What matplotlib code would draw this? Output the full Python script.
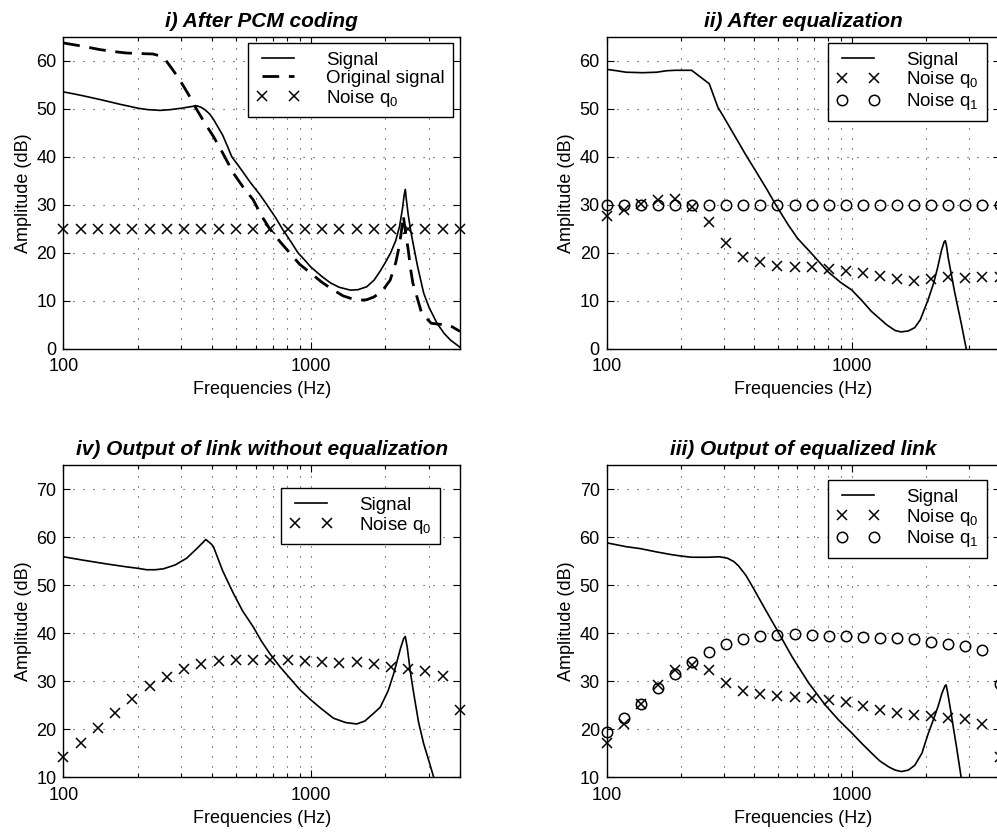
import numpy as np
import matplotlib
matplotlib.use("Agg")
import matplotlib.pyplot as plt
from matplotlib.ticker import FixedLocator, NullFormatter, FixedFormatter

plt.rcParams['font.family'] = ['Liberation Sans', 'DejaVu Sans']
plt.rcParams['mathtext.fontset'] = 'custom'
plt.rcParams['mathtext.rm'] = 'Liberation Sans'
plt.rcParams['mathtext.it'] = 'Liberation Sans:italic'

# ---------------- data ----------------
noise_freq = [100, 117.4, 137.8, 161.8, 189.9, 223.0, 261.8, 307.3, 360.8, 423.5,
              497.2, 583.7, 685.2, 804.4, 944.4, 1108.7, 1301.5, 1527.9, 1793.8,
              2105.8, 2472.1, 2902.2, 3407.1, 4000]

# i) After PCM coding
sig1_freq = [100, 110, 120, 130, 141, 155, 170, 185, 200, 220, 246, 270, 300, 325, 346,
             360, 373, 390, 404, 420, 440, 460, 479, 520, 570, 620, 664, 720, 770, 830,
             886, 950, 1000, 1110, 1200, 1300, 1445, 1550, 1680, 1800, 1906, 2000, 2100,
             2200, 2280, 2340, 2380, 2405, 2430, 2470, 2530, 2600, 2700, 2853, 3000,
             3230, 3450, 3660, 4000]
sig1_val = [53.5, 53.1, 52.7, 52.3, 51.9, 51.4, 50.9, 50.5, 50.1, 49.8, 49.65, 49.8,
            50.1, 50.4, 50.6, 50.3, 49.8, 48.9, 47.8, 46.3, 44.5, 42.2, 40.0, 37.5, 34.6,
            32.2, 30.0, 27.3, 24.8, 22.3, 20.0, 18.3, 17.0, 15.0, 13.7, 12.8, 12.2, 12.3,
            12.9, 14.3, 16.2, 18.0, 20.0, 22.5, 25.5, 29.0, 32.0, 33.2, 31.0, 28.0, 24.5,
            21.3, 17.0, 11.6, 8.6, 5.3, 3.2, 1.8, 0.3]
orig1_freq = [100, 120, 141, 160, 180, 200, 230, 246, 260, 275, 290, 300, 320, 346, 375,
              404, 440, 486, 530, 585, 630, 681, 750, 823, 900, 1000, 1110, 1233, 1350,
              1485, 1580, 1680, 1800, 1940, 2090, 2200, 2270, 2320, 2360, 2400, 2474,
              2530, 2580, 2680, 2800, 3060, 3300, 3600, 4000]
orig1_val = [63.7, 63.0, 62.3, 61.9, 61.6, 61.5, 61.4, 61.0, 60.0, 58.3, 56.6, 55.4,
             53.0, 49.8, 46.8, 44.2, 40.8, 36.6, 33.8, 31.0, 27.8, 25.0, 22.3, 19.9, 17.6,
             15.7, 13.8, 12.2, 11.0, 10.3, 10.1, 10.2, 10.8, 12.0, 14.3, 17.9, 21.2, 24.5,
             27.8, 25.0, 20.4, 16.4, 13.7, 10.8, 7.4, 5.3, 5.1, 5.0, 3.6]
noise1_q0 = [25] * 24

# ii) After equalization
sig2_freq = [100, 110, 120, 140, 160, 175, 190, 222, 262, 284, 300, 370, 400, 450, 489,
             550, 600, 680, 800, 900, 1000, 1100, 1200, 1385, 1500, 1585, 1700, 1805,
             1900, 2046, 2150, 2240, 2320, 2380, 2405, 2430, 2470, 2540, 2620, 2700,
             2800, 2926, 3100]
sig2_val = [58.2, 57.9, 57.6, 57.5, 57.6, 57.9, 58.0, 58.0, 55.2, 50.3, 48.3, 40.3,
            37.5, 33.2, 30.0, 25.8, 23.0, 20.0, 16.0, 13.8, 12.2, 10.0, 7.8, 5.0, 3.8,
            3.5, 3.7, 4.4, 6.0, 10.2, 13.5, 17.0, 20.5, 22.3, 22.5, 21.5, 19.0, 15.7,
            12.0, 8.8, 5.0, 0.0, -5.0]
noise2_q0 = [27.7, 28.8, 30.2, 31.0, 31.2, 29.6, 26.3, 22.0, 19.2, 18.0, 17.3, 17.1,
             17.0, 16.6, 16.1, 15.7, 15.2, 14.5, 14.2, 14.6, 14.9, 14.7, 15.0, 14.9]
noise2_q1 = [30] * 24

# iv) Output of link without equalization
sig4_freq = [100, 120, 150, 180, 200, 217, 235, 254, 283, 315, 346, 365, 376, 395, 404,
             440, 486, 530, 585, 630, 681, 750, 823, 900, 1000, 1100, 1233, 1380, 1530,
             1650, 1790, 1906, 2050, 2157, 2305, 2370, 2405, 2450, 2520, 2600, 2720,
             2853, 3000, 3120, 3400]
sig4_val = [55.9, 55.2, 54.4, 53.8, 53.5, 53.2, 53.2, 53.4, 54.2, 55.6, 57.6, 58.8,
            59.5, 58.6, 58.0, 53.0, 48.3, 44.6, 41.3, 38.4, 35.8, 33.0, 30.6, 28.3, 26.1,
            24.3, 22.3, 21.4, 21.1, 21.7, 23.3, 24.6, 28.0, 31.5, 37.0, 38.9, 39.3, 37.0,
            32.0, 27.5, 21.5, 17.0, 13.3, 10.3, 4.0]
noise4_q0 = [14.3, 17.1, 20.2, 23.3, 26.2, 28.9, 30.8, 32.5, 33.6, 34.3, 34.5, 34.5,
             34.4, 34.4, 34.3, 34.1, 33.7, 33.9, 33.5, 33.0, 32.5, 32.2, 31.1, 24.1]

# iii) Output of equalized link
sig3_freq = [100, 120, 137, 160, 186, 205, 222, 260, 288, 311, 330, 345, 370, 393, 445,
             491, 570, 667, 780, 880, 1000, 1100, 1205, 1300, 1410, 1500, 1593, 1700,
             1805, 1930, 2045, 2150, 2245, 2330, 2400, 2425, 2470, 2540, 2600, 2670,
             2790, 3000]
sig3_val = [58.8, 58.0, 57.6, 56.9, 56.3, 56.0, 55.8, 55.8, 55.9, 55.6, 54.9, 54.0,
            52.0, 49.7, 44.8, 41.0, 35.1, 29.6, 25.0, 22.0, 19.2, 17.0, 15.0, 13.4, 12.2,
            11.5, 11.2, 11.5, 12.5, 15.0, 19.0, 22.0, 24.7, 27.5, 29.1, 29.2, 27.0, 23.3,
            20.0, 16.4, 10.0, 2.0]
noise3_q0 = [17.1, 21.1, 25.3, 29.2, 32.3, 33.4, 32.3, 29.6, 28.0, 27.3, 26.9, 26.8,
             26.6, 26.1, 25.6, 24.8, 24.1, 23.3, 23.0, 22.8, 22.4, 22.1, 21.1, 14.2]
noise3_q1 = [19.5, 22.3, 25.3, 28.5, 31.5, 34.1, 36.1, 37.7, 38.8, 39.4, 39.6, 39.8,
             39.6, 39.5, 39.4, 39.3, 38.9, 38.9, 38.8, 38.2, 37.7, 37.4, 36.4, 29.4]

x_major = [100, 1000]
x_major_labels = ['100', '1000']
x_minor = [200, 300, 400, 500, 600, 700, 800, 900, 2000, 3000, 4000]

# ---------------- figure ----------------
W, H = 997, 840
fig = plt.figure(figsize=(W / 100, H / 100), dpi=100)


def px_axes(left, top, right, bottom):
    return fig.add_axes([left / W, 1 - bottom / H, (right - left) / W, (bottom - top) / H])


def style(ax, ylim, yticks, title):
    ax.set_xscale('log')
    ax.set_xlim(100, 4000)
    ax.set_ylim(*ylim)
    ax.xaxis.set_major_locator(FixedLocator(x_major))
    ax.xaxis.set_major_formatter(FixedFormatter(x_major_labels))
    ax.xaxis.set_minor_locator(FixedLocator(x_minor))
    ax.xaxis.set_minor_formatter(NullFormatter())
    ax.set_yticks(yticks)
    ax.tick_params(which='both', direction='in', top=True, right=True,
                   labelsize=13, width=0.8)
    ax.tick_params(which='major', length=5)
    ax.tick_params(which='minor', length=3)
    ax.tick_params(axis='x', pad=7)
    ax.tick_params(axis='y', pad=5)
    gkw = dict(color='#333333', linestyle=(0, (1, 8)), linewidth=0.8)
    ax.xaxis.grid(True, which='both', **gkw)
    ax.yaxis.grid(True, which='major', **gkw)
    for s in ax.spines.values():
        s.set_linewidth(1.0)
        s.set_color('black')
    ax.set_xlabel('Frequencies (Hz)', fontsize=13, labelpad=4)
    ax.set_ylabel('Amplitude (dB)', fontsize=13, labelpad=3)
    ax.set_title(title, fontsize=15, fontweight='bold', fontstyle='italic', pad=7)


def legend(ax, x_right, y_top):
    leg = ax.legend(loc='upper right', bbox_to_anchor=(x_right / W, 1 - y_top / H),
                    bbox_transform=fig.transFigure, numpoints=2, fontsize=13.5,
                    handlelength=2.3, handletextpad=1.4, labelspacing=0.05,
                    borderpad=0.45, borderaxespad=0, fancybox=False, framealpha=1,
                    edgecolor='black')
    leg.get_frame().set_linewidth(1.0)
    leg.set_zorder(5)
    return leg


lw = 1.2
xkw = dict(linestyle='none', marker='x', color='black', markersize=7, markeredgewidth=1.1,
           clip_on=False)
okw = dict(linestyle='none', marker='o', color='black', markersize=7.5,
           markerfacecolor='none', markeredgewidth=1.1, clip_on=False)

R_RIGHT = 999.5

# i)
ax1 = px_axes(63.3, 36.7, 460, 348.7)
ax1.plot(sig1_freq, sig1_val, color='black', lw=lw, label='Signal')
ax1.plot(orig1_freq, orig1_val, color='black', lw=2.0, dashes=(6, 3.5), label='Original signal')
ax1.plot(noise_freq, noise1_q0, label='Noise q$_0$', **xkw)
style(ax1, (0, 65), [0, 10, 20, 30, 40, 50, 60], 'i) After PCM coding')
legend(ax1, 453, 43)

# ii)
ax2 = px_axes(606.7, 36.7, R_RIGHT, 348.7)
ax2.plot(sig2_freq, sig2_val, color='black', lw=lw, label='Signal')
ax2.plot(noise_freq, noise2_q0, label='Noise q$_0$', **xkw)
ax2.plot(noise_freq, noise2_q1, label='Noise q$_1$', **okw)
style(ax2, (0, 65), [0, 10, 20, 30, 40, 50, 60], 'ii) After equalization')
legend(ax2, 986.7, 43)

# iv)
ax4 = px_axes(63.3, 465, 460, 777.3)
ax4.plot(sig4_freq, sig4_val, color='black', lw=lw, label='Signal')
ax4.plot(noise_freq, noise4_q0, label='Noise q$_0$', **xkw)
style(ax4, (10, 75), [10, 20, 30, 40, 50, 60, 70], 'iv) Output of link without equalization')
legend(ax4, 440, 488)

# iii)
ax3 = px_axes(606.7, 465, R_RIGHT, 777.3)
ax3.plot(sig3_freq, sig3_val, color='black', lw=lw, label='Signal')
ax3.plot(noise_freq, noise3_q0, label='Noise q$_0$', **xkw)
ax3.plot(noise_freq, noise3_q1, label='Noise q$_1$', **okw)
style(ax3, (10, 75), [10, 20, 30, 40, 50, 60, 70], 'iii) Output of equalized link')
legend(ax3, 986.7, 480)

fig.savefig('out.png', dpi=100)
